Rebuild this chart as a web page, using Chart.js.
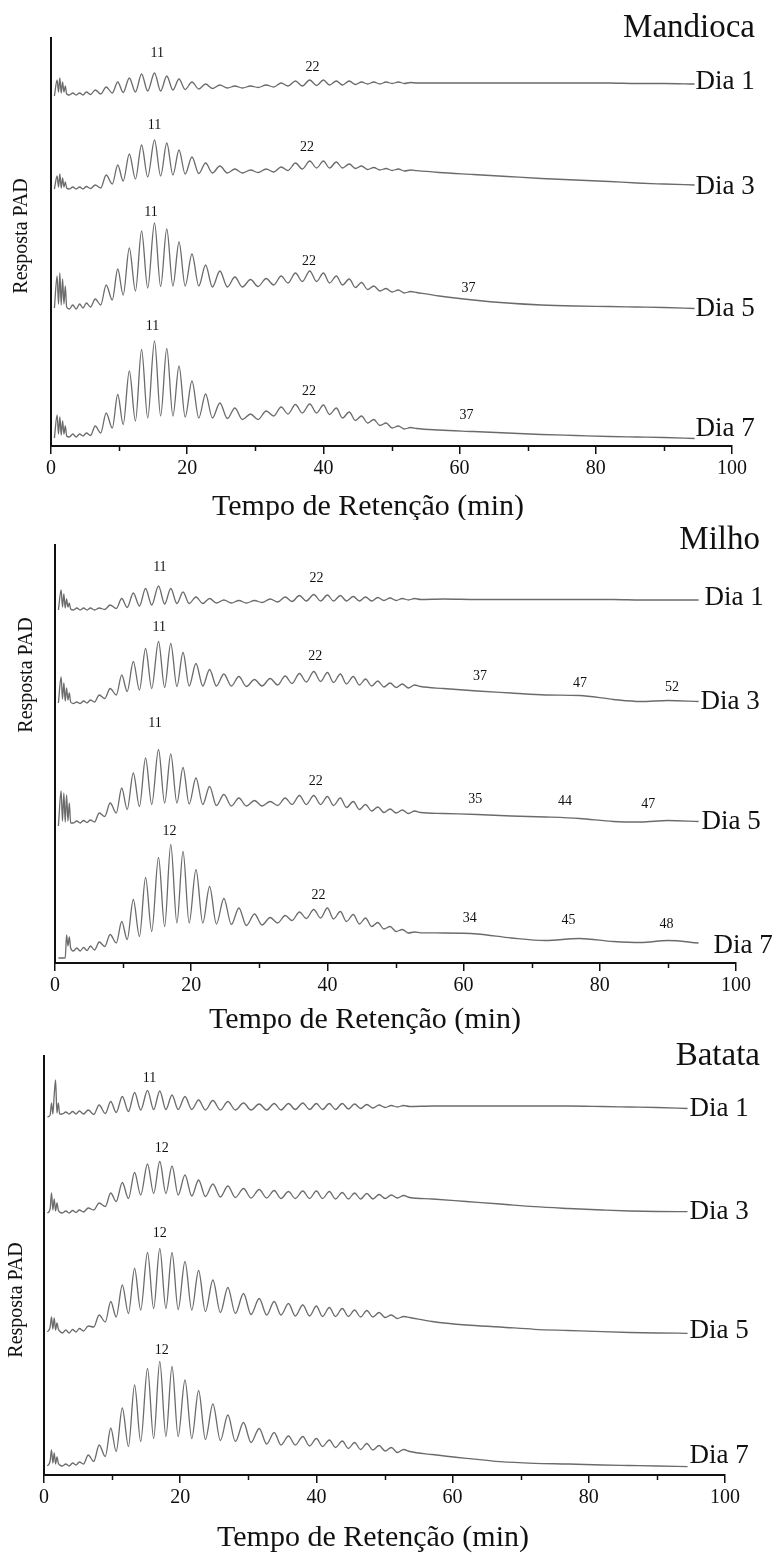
<!DOCTYPE html>
<html>
<head>
<meta charset="utf-8">
<script src="https://cdn.jsdelivr.net/npm/chart.js@4.4.1/dist/chart.umd.min.js"></script>
<style>
  html, body { margin: 0; padding: 0; background: #fff; }
  #wrap { position: relative; width: 781px; height: 1555px; }
  canvas { position: absolute; left: 0; }
</style>
</head>
<body>
<div id="wrap">
  <canvas id="mandioca" width="781" height="520" style="top:0px"></canvas>
  <canvas id="milho" width="781" height="520" style="top:520px"></canvas>
  <canvas id="batata" width="781" height="515" style="top:1040px"></canvas>
</div>
<script>
// Retention time (min): early spikes, then valley/peak pairs of the DP series, then the tail
const retTime = [
  0.5, 0.9, 1.1, 1.3, 1.5, 1.7, 1.9, 2.1, 2.3,
  2.7, 3.2, 3.7, 4.2, 4.7, 5.2, 5.8, 6.5, 7.3, 8.1,
  9.0, 9.8, 10.6, 11.5, 12.4, 13.3, 14.2, 15.2, 16.1, 17.0,
  17.9, 18.8, 19.7, 20.7, 21.7, 22.7, 23.7, 24.8, 25.9, 27.0,
  28.1, 29.3, 30.4, 31.6, 32.7, 33.8, 34.8, 35.9, 36.9, 38.0,
  39.0, 40.0, 40.9, 41.9, 42.8, 43.8, 44.7, 45.6, 46.5, 47.4,
  48.3, 49.2, 50.1, 51.0, 51.9, 52.8, 53.7,
  57, 62, 67, 72, 77, 82, 86, 90, 94.5
];

const dayNames = ['Dia 1', 'Dia 3', 'Dia 5', 'Dia 7'];

// Mandioca (stacked PAD response, arbitrary units)
const mandiocaDia1 = [
  350, 366, 354, 368, 353, 364, 354, 360, 352,
  351, 353, 351, 353, 351, 354, 351.5, 356, 352, 359,
  353, 364, 353.5, 368, 354, 372, 355, 373, 355, 370,
  356, 367, 356.5, 364, 357, 362, 357.5, 361, 358, 360,
  358, 360, 358.5, 361, 359, 363, 360, 365, 360, 366,
  360.5, 366, 361, 365, 361, 365, 361.5, 364, 362, 364,
  362, 364, 362.5, 364, 362.5, 363.5, 363,
  363, 363, 363, 363, 363, 363, 362.5, 362.5, 362
];
const mandiocaDia3 = [
  257, 270, 259, 272, 258, 268, 259, 264, 258,
  257, 259, 257, 259, 257, 259.5, 257.5, 261, 258, 271,
  262, 281, 265, 292, 267, 301, 269, 306, 270, 303,
  271, 296, 272, 289, 272.5, 283, 273, 280, 273, 277,
  273, 276, 273.5, 277, 274, 279, 275.5, 283, 277, 285,
  278, 285, 278, 284, 278, 282, 277.5, 280, 276.5, 278.5,
  276, 277.5, 275.5, 277, 275, 276, 275.3,
  273.5, 271.5, 269.5, 267.5, 266, 264.5, 263, 262, 261
];
const mandiocaDia5 = [
  138, 170, 142, 173, 141, 167, 142, 160, 139,
  137, 141, 137, 142, 138, 143, 139, 147, 141, 161,
  146, 177, 151, 198, 155, 215, 158, 223, 159.5, 217,
  160, 204, 160, 192, 160, 181, 159, 175, 159, 169,
  159, 166.5, 159.5, 167.5, 161, 170, 163, 173, 164.5, 175,
  164.5, 173, 163, 170, 161, 167, 158.5, 163.5, 156.5, 160,
  155, 157.5, 154, 156, 153, 154.5, 153.5,
  150, 146, 143, 141, 140, 139.5, 139, 138.5, 137.5
];
const mandiocaDia7 = [
  8, 31, 12, 29, 11, 25, 12, 20, 10,
  9, 12, 9, 12, 10, 13, 10.5, 20, 13, 33,
  18, 51.5, 21.5, 75, 25, 96.5, 28, 105, 30, 97.5,
  30, 80, 29, 65, 28, 52, 28, 43, 27.5, 38,
  26.5, 32, 26.5, 35, 30, 39, 32, 41.5, 33, 42,
  33, 41, 31.5, 38, 28, 34, 25.5, 30, 23, 26.5,
  20.5, 23, 18, 20, 17, 18.5, 17.5,
  16, 14.5, 13, 11.5, 10.5, 9.5, 9, 8.5, 7.5
];

// Milho
const milhoDia1 = [
  353, 373, 356, 369, 355, 364, 356, 360, 354,
  353, 355, 353, 355, 353, 355, 353, 355, 353.5, 358,
  354.5, 364.5, 355.5, 370, 357, 374.5, 358, 377, 359, 374.5,
  359.5, 371, 359.5, 366, 359.5, 364.5, 360, 363, 360, 362.5,
  360, 362.5, 360.5, 364, 361, 366, 361.5, 367.5, 362, 368.5,
  362, 368, 362, 367.5, 362, 366.5, 362, 366, 362, 365.5,
  362.5, 365, 362.5, 364.5, 363, 364.5, 363.5,
  364, 363.5, 363.5, 363.5, 363.5, 363.5, 363, 363, 363
];
const milhoDia3 = [
  260, 286, 264, 280, 262, 275, 263, 270, 261,
  259.5, 261, 259.5, 262, 260, 263, 261, 268, 264.5, 274.5,
  268, 288, 271.5, 301.5, 273, 314.5, 274.5, 321.5, 275.5, 319.5,
  276.5, 310.5, 277, 299.5, 277, 293.5, 277, 289, 277, 286.5,
  276.5, 283.5, 277, 284.5, 278, 287, 279.5, 289.5, 281, 291.5,
  281.5, 290.5, 280.5, 289, 279, 286.5, 278, 284, 277, 282,
  276, 280, 275.5, 279, 275, 278, 276.5,
  274.5, 272, 270, 268, 267.5, 263.5, 261.5, 262.5, 261.5
];
const milhoDia5 = [
  137, 172, 142, 170, 141, 168, 142, 160, 140,
  140, 142, 140, 142.5, 140.5, 143, 141, 150, 146.5, 160,
  150, 175, 153.5, 190, 156.5, 205, 158.5, 213.5, 160, 209,
  160, 195.5, 159, 185, 158.5, 176.5, 157.5, 168.5, 157, 165,
  157, 162.5, 157, 161.5, 157.5, 165, 158.5, 167.5, 158.5, 167.5,
  158.5, 166.5, 157.5, 165, 155.5, 161.5, 153.5, 158.5, 152, 156,
  150.5, 154, 150, 153, 149.5, 152, 150.5,
  149.5, 148.5, 147, 146, 144.5, 141.5, 141, 142.5, 141.5
];
const milhoDia7 = [
  5, 5, 5, 5, 5, 28, 17, 26, 15,
  12, 15, 12, 15.5, 12.5, 17, 13, 21, 16.5, 28.5,
  20, 41.5, 23.5, 63.5, 26.5, 85.5, 31.5, 105.5, 36.5, 118.5,
  40, 111.5, 40, 93.5, 40, 76.5, 39, 64.5, 38.5, 55,
  37.5, 49, 38, 45.5, 40, 47.5, 42.5, 51, 44.5, 53.5,
  45, 55, 44, 51.5, 41.5, 48.5, 39, 45, 36.5, 40.5,
  34, 36.5, 31.5, 33.5, 30, 31, 30.2,
  30, 29, 25, 22.5, 24.5, 21.5, 20.5, 22.5, 20
];

// Batata
const batataDia1 = [
  358, 360, 372, 361, 380, 395, 362, 372, 361,
  361, 363, 361, 363.5, 361, 364, 361, 365, 360.5, 370,
  361.5, 373.5, 362.5, 378.5, 363.5, 382.5, 365, 384.5, 365.5, 384,
  365.5, 380, 365.5, 378.5, 365.5, 375, 365, 374.5, 365, 373.5,
  365, 372, 365, 371, 365, 371.5, 365, 371.5, 365.5, 372,
  365.5, 371.5, 365.5, 371.5, 365.5, 371.5, 366, 371, 366.5, 370.5,
  367, 370, 367.5, 369.5, 368, 369.5, 368.5,
  369, 369, 369, 369, 369, 368.5, 368, 367.5, 366.5
];
const batataDia3 = [
  262, 266, 282, 265, 276, 264, 272, 265, 263,
  262, 264, 262, 264.5, 262.5, 265, 263, 267, 265, 272,
  268.5, 282, 273.5, 292.5, 276.5, 302.5, 280, 311, 281.5, 313.5,
  281.5, 309, 280, 300, 279, 295, 278.5, 291, 278, 289,
  277.5, 286.5, 277, 285.5, 277, 284.5, 276.5, 283.5, 276.5, 284,
  276.5, 284, 276.5, 283.5, 276, 282.5, 276, 282, 276, 281.5,
  276, 280.5, 276.5, 280, 277, 279.5, 277.5,
  276, 273.5, 271, 268.3, 266.5, 265, 264, 263.5, 263.3
];
const batataDia5 = [
  143, 148, 158, 146, 157, 145, 152, 146, 144,
  142, 145, 142, 145.5, 143, 146.5, 144, 149, 148, 160,
  153, 173.5, 158, 190, 161.5, 206.5, 165, 222.5, 166.5, 226.5,
  166.5, 222.5, 165.5, 213.5, 165, 204.5, 163.5, 195, 162.5, 187.5,
  161.5, 181.5, 160.5, 176.5, 160, 173.5, 160, 171.5, 159, 170,
  159, 169, 158.5, 167.5, 158.5, 166.5, 158.5, 165, 158, 164.5,
  158, 162.5, 157.5, 160, 156.5, 158.5, 157.5,
  153.5, 150, 148, 145.7, 144.5, 143.3, 142.5, 142, 141.7
];
const batataDia7 = [
  9, 14, 25, 12, 22, 11, 18, 12, 10,
  9, 11, 9, 12, 10, 13, 11, 20, 13.5, 30,
  18.5, 47, 23.5, 67, 28.5, 90, 33.5, 106.5, 36.5, 113.5,
  38.5, 108.5, 38.5, 95, 36.5, 84.5, 35.5, 71, 34.5, 60,
  33.5, 52.5, 32.5, 46.5, 31, 42.5, 30, 39, 30, 38.5,
  29, 36.5, 28.5, 35, 27.5, 34, 26.5, 32.5, 25.5, 31.5,
  25, 29.5, 24, 27.5, 22.5, 25.5, 23.5,
  20.5, 16.7, 13.3, 11.7, 11, 10, 9.5, 9, 8.3
];

// Degree of polymerisation marks written over the traces
const mandiocaDpText  = ['11', '22', '11', '22', '11', '22', '37', '11', '22', '37'];
const mandiocaDpTime  = [15.6, 38.4, 15.2, 37.6, 14.7, 37.9, 61.3, 14.9, 37.9, 61.0];
const mandiocaDpLevel = [393, 379, 321, 299, 234, 185, 158, 120, 55, 31];

const milhoDpText  = ['11', '22', '11', '22', '37', '47', '52', '11', '22', '35', '44', '47', '12', '22', '34', '45', '48'];
const milhoDpTime  = [15.4, 38.4, 15.3, 38.2, 62.4, 77.1, 90.6, 14.7, 38.3, 61.7, 74.9, 87.1, 16.8, 38.7, 60.9, 75.4, 89.8];
const milhoDpLevel = [396, 385, 336, 307, 287, 280, 276, 240, 181.5, 164, 162, 159, 132, 68, 45, 43, 39];

const batataDpText  = ['11', '12', '12', '12'];
const batataDpTime  = [15.5, 17.3, 17.0, 17.3];
const batataDpLevel = [397, 327, 242, 125];

const SERIF = '"Liberation Serif", "Times New Roman", "DejaVu Serif", serif';
const TRACE_COLOR = '#6b6b6b';
const INK = '#111';

// Draws the texts that are not part of Chart.js scales: titles, DP marks, day labels, minor ticks
const panelTextPlugin = {
  id: 'panelText',
  afterDraw(chart, args, o) {
    const { ctx, chartArea } = chart;
    const x = chart.scales.x;
    const y = chart.scales.y;
    ctx.save();

    // minor ticks on the time axis
    ctx.strokeStyle = INK;
    ctx.lineWidth = 1.5;
    [10, 30, 50, 70, 90].forEach(v => {
      const px = Math.round(x.getPixelForValue(v)) + 0.5;
      ctx.beginPath();
      ctx.moveTo(px, chartArea.bottom);
      ctx.lineTo(px, chartArea.bottom + 5);
      ctx.stroke();
    });

    ctx.fillStyle = INK;

    // DP marks
    ctx.font = '14px ' + SERIF;
    ctx.textAlign = 'center';
    ctx.textBaseline = 'middle';
    o.dpText.forEach((txt, i) => {
      ctx.fillText(txt, x.getPixelForValue(o.dpTime[i]), y.getPixelForValue(o.dpLevel[i]));
    });

    // day labels at the end of each trace
    ctx.font = '27px ' + SERIF;
    ctx.textAlign = 'left';
    chart.data.datasets.forEach((ds, i) => {
      const last = ds.data[ds.data.length - 1];
      const shift = o.dayShift[i];
      ctx.fillText(dayNames[i], x.getPixelForValue(last.x) + shift[0], y.getPixelForValue(last.y) + shift[1]);
    });

    // panel title
    ctx.font = '33px ' + SERIF;
    ctx.textAlign = 'right';
    ctx.textBaseline = 'alphabetic';
    ctx.fillText(o.title, o.titlePos[0], o.titlePos[1]);

    // axis titles
    ctx.font = '30px ' + SERIF;
    ctx.textAlign = 'center';
    ctx.textBaseline = 'middle';
    ctx.fillText('Tempo de Retenção (min)', o.xTitlePos[0], o.xTitlePos[1]);

    ctx.translate(o.yTitlePos[0], o.yTitlePos[1]);
    ctx.rotate(-Math.PI / 2);
    ctx.font = '20px ' + SERIF;
    ctx.fillText('Resposta PAD', 0, 0);

    ctx.restore();
  }
};

function buildPanel(canvasId, series, area, text) {
  const canvas = document.getElementById(canvasId);
  const canvasH = canvas.height;

  const datasets = series.map(values => ({
    data: retTime.map((t, i) => ({ x: t, y: values[i] })),
    borderColor: TRACE_COLOR,
    borderWidth: 1.3,
    pointRadius: 0,
    fill: false,
    cubicInterpolationMode: 'monotone'
  }));

  return new Chart(canvas.getContext('2d'), {
    type: 'line',
    data: { datasets },
    options: {
      responsive: false,
      animation: false,
      devicePixelRatio: 1,
      layout: { padding: { top: area.top, right: canvas.width - area.right, bottom: 0, left: 0 } },
      scales: {
        x: {
          type: 'linear',
          min: 0,
          max: 100,
          ticks: {
            stepSize: 10,
            autoSkip: false,
            maxRotation: 0,
            padding: 3,
            color: INK,
            font: { family: SERIF, size: 20 },
            callback: v => (v % 20 === 0 ? String(v) : '')
          },
          grid: {
            drawOnChartArea: false,
            drawTicks: true,
            tickLength: 8,
            lineWidth: 1.5,
            color: c => (c.tick && c.tick.value % 20 === 0 ? INK : 'rgba(0,0,0,0)')
          },
          border: { display: true, color: INK, width: 2 },
          afterFit: s => { s.height = canvasH - area.bottom; }
        },
        y: {
          min: 0,
          max: area.bottom - area.top,
          ticks: { display: false },
          grid: { display: true, drawOnChartArea: false, drawTicks: false },
          border: { display: true, color: INK, width: 2 },
          afterFit: s => { s.width = area.left; }
        }
      },
      plugins: {
        legend: { display: false },
        tooltip: { enabled: false },
        panelText: text
      }
    },
    plugins: [panelTextPlugin]
  });
}

buildPanel('mandioca',
  [mandiocaDia1, mandiocaDia3, mandiocaDia5, mandiocaDia7],
  { left: 51, right: 732, top: 38, bottom: 446 },
  {
    title: 'Mandioca', titlePos: [755, 37],
    xTitlePos: [368, 507], yTitlePos: [22, 236],
    dpText: mandiocaDpText, dpTime: mandiocaDpTime, dpLevel: mandiocaDpLevel,
    dayShift: [[1, -2], [1, 2], [1, 0], [1, -10]]
  });

buildPanel('milho',
  [milhoDia1, milhoDia3, milhoDia5, milhoDia7],
  { left: 55, right: 736, top: 25, bottom: 443 },
  {
    title: 'Milho', titlePos: [760, 29],
    xTitlePos: [365, 500], yTitlePos: [27, 155],
    dpText: milhoDpText, dpTime: milhoDpTime, dpLevel: milhoDpLevel,
    dayShift: [[6, -2], [2, 0], [3, 0], [15, 3]]
  });

buildPanel('batata',
  [batataDia1, batataDia3, batataDia5, batataDia7],
  { left: 44, right: 725, top: 16, bottom: 435 },
  {
    title: 'Batata', titlePos: [760, 25],
    xTitlePos: [373, 498], yTitlePos: [17, 260],
    dpText: batataDpText, dpTime: batataDpTime, dpLevel: batataDpLevel,
    dayShift: [[2, 0], [2, 0], [2, -2], [2, -11]]
  });
</script>
</body>
</html>
